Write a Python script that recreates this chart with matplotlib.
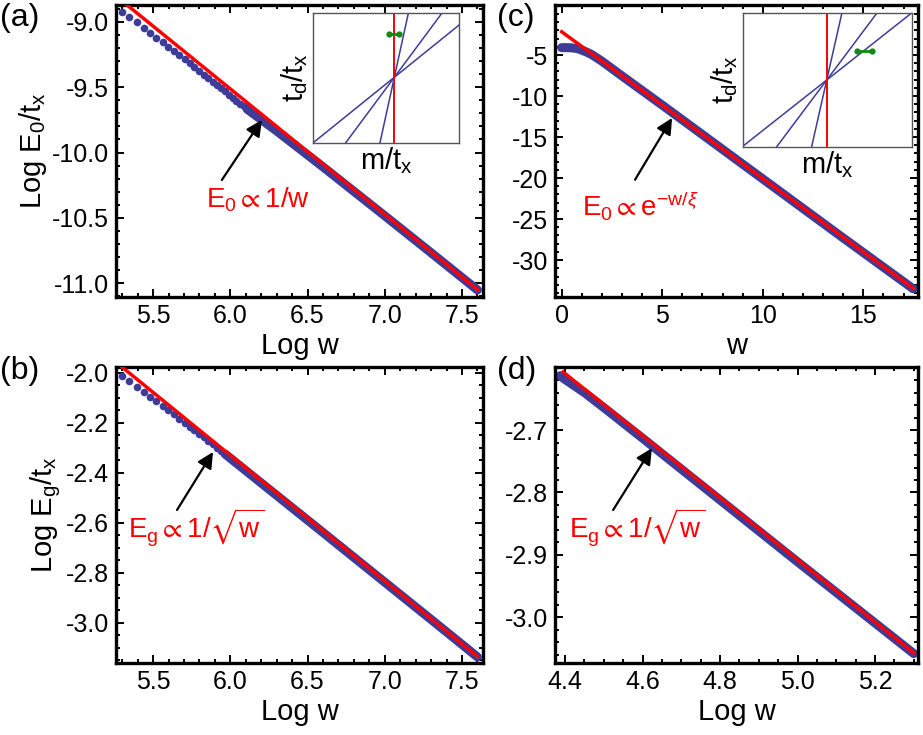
import matplotlib
matplotlib.use("Agg")
import matplotlib.pyplot as plt
from matplotlib.ticker import MultipleLocator, FixedLocator

plt.rcParams['font.family'] = ['Liberation Sans', 'DejaVu Sans']
plt.rcParams['mathtext.fontset'] = 'custom'
plt.rcParams['mathtext.rm'] = 'Liberation Sans'
plt.rcParams['mathtext.it'] = 'Liberation Sans:italic'
plt.rcParams['mathtext.fallback'] = 'stixsans'
plt.rcParams['axes.unicode_minus'] = False

BLUE = '#3d3d99'
RED = '#ff0000'
GREEN = '#108a10'

# --- panel (a): Log E0 vs Log w ---
a_dot_x = [5.298, 5.347, 5.394, 5.438, 5.481, 5.521, 5.561, 5.598, 5.635, 5.670,
           5.704, 5.737, 5.768, 5.799, 5.829, 5.858, 5.886, 5.914, 5.940, 5.966,
           5.991, 6.016, 6.040, 6.064, 6.087, 6.109]
a_dot_y = [-8.921, -8.959, -9.002, -9.044, -9.082, -9.121, -9.156, -9.190, -9.222, -9.253,
           -9.286, -9.316, -9.347, -9.375, -9.406, -9.431, -9.457, -9.483, -9.508, -9.532,
           -9.556, -9.579, -9.602, -9.625, -9.647, -9.668]
a_band_x = [6.109, 6.3, 6.6, 7.0, 7.3, 7.6]
a_band_y = [-9.668, -9.835, -10.11, -10.485, -10.768, -11.053]
a_fit_x = [5.30, 7.60]
a_fit_y = [-8.84, -11.05]

# --- panel (b): Log Eg vs Log w ---
b_dot_x = [5.298, 5.347, 5.394, 5.438, 5.481, 5.521, 5.561, 5.598, 5.635, 5.670,
           5.704, 5.737, 5.768, 5.799, 5.829, 5.858, 5.886, 5.914, 5.940, 5.966]
b_dot_y = [-2.012, -2.034, -2.055, -2.075, -2.095, -2.113, -2.132, -2.149, -2.166, -2.183,
           -2.199, -2.215, -2.229, -2.244, -2.258, -2.273, -2.286, -2.299, -2.312, -2.324]
b_band_x = [5.966, 6.2, 6.6, 7.0, 7.3, 7.6]
b_band_y = [-2.324, -2.440, -2.638, -2.837, -2.986, -3.136]
b_fit_x = [5.30, 7.60]
b_fit_y = [-1.977, -3.134]

# --- panel (c): Log E0 vs w ---
c_w = [0.0, 0.25, 0.5, 0.75, 1.0, 1.25, 1.5, 2.0, 2.5, 3.0, 5.0, 8.0, 11.0, 14.0, 17.48]
c_y = [-4.1, -4.1, -4.12, -4.2, -4.4, -4.65, -4.95, -5.75, -6.65, -7.55, -11.1, -16.5,
       -21.9, -27.3, -33.5]
c_fit_x = [0.0, 17.48]
c_fit_y = [-2.16, -33.45]
c_yticks = [-30, -25, -20, -15, -10, -5]

# --- panel (d): Log Eg vs Log w ---
d_x = [4.387, 4.40, 4.45, 4.5, 4.6, 4.8, 5.0, 5.2, 5.30]
d_y = [-2.613, -2.619, -2.640, -2.664, -2.713, -2.812, -2.911, -3.009, -3.058]
d_fit_x = [4.395, 5.30]
d_fit_y = [-2.607, -3.057]
d_yticks = [-3.0, -2.9, -2.8, -2.7]

# insets: slopes of the three lines through the crossing point, and the green pair
inset_a_center = (0.555, 0.505)
inset_a_slopes = [0.91, 1.52, 5.15]
inset_a_green_x = [0.52, 0.589]
inset_a_green_y = [0.838, 0.838]
inset_c_center = (0.497, 0.50)
inset_c_slopes = [1.0, 1.69, 5.6]
inset_c_green_x = [0.675, 0.763]
inset_c_green_y = [0.717, 0.717]

fig = plt.figure(figsize=(9.23, 7.35), dpi=100)
ax_a = fig.add_axes([0.1257, 0.5959, 0.3976, 0.3973])
ax_c = fig.add_axes([0.6013, 0.5959, 0.3933, 0.3973])
ax_b = fig.add_axes([0.1257, 0.0980, 0.3976, 0.4027])
ax_d = fig.add_axes([0.6013, 0.0980, 0.3933, 0.4027])

TICK_FS = 18
LABEL_FS = 21
NOTE_FS = 20
PANEL_FS = 23


def style(ax, xmaj, xmin, ymaj, ymin):
    for s in ax.spines.values():
        s.set_linewidth(2.4)
    ax.xaxis.set_major_locator(MultipleLocator(xmaj))
    ax.xaxis.set_minor_locator(MultipleLocator(xmin))
    ax.yaxis.set_major_locator(MultipleLocator(ymaj))
    ax.yaxis.set_minor_locator(MultipleLocator(ymin))
    ax.tick_params(which='both', direction='in', top=True, right=True,
                   labelsize=TICK_FS, width=1.4)
    ax.tick_params(which='major', length=6, pad=5)
    ax.tick_params(which='minor', length=3)


def draw(ax, dot_x, dot_y, band_x, band_y, fit_x, fit_y):
    if dot_x:
        ax.plot(dot_x, dot_y, 'o', color=BLUE, ms=5.5, mec='none', zorder=2)
    ax.plot(band_x, band_y, '-', color=BLUE, lw=6.5, solid_capstyle='round', zorder=2)
    ax.plot(fit_x, fit_y, '-', color=RED, lw=2.5, zorder=3)


arrow = dict(arrowstyle='-|>', color='black', lw=1.6, mutation_scale=24,
             shrinkA=0, shrinkB=0)

# (a)
draw(ax_a, a_dot_x, a_dot_y, a_band_x, a_band_y, a_fit_x, a_fit_y)
style(ax_a, 0.5, 0.1, 0.5, 0.1)
ax_a.set_xlim(5.26, 7.636)
ax_a.set_ylim(-11.107, -8.87)
ax_a.set_xlabel('Log w', fontsize=LABEL_FS, labelpad=3)
ax_a.set_ylabel(r'Log E$_0$/t$_\mathrm{x}$', fontsize=LABEL_FS, labelpad=2)
ax_a.annotate('', xy=(6.204, -9.751), xytext=(5.945, -10.211), arrowprops=arrow)
ax_a.text(6.18, -10.36, r'E$_0$$\propto$1/w', color=RED, fontsize=NOTE_FS,
          ha='center', va='center')

# (b)
draw(ax_b, b_dot_x, b_dot_y, b_band_x, b_band_y, b_fit_x, b_fit_y)
style(ax_b, 0.5, 0.1, 0.2, 0.05)
ax_b.set_xlim(5.26, 7.636)
ax_b.set_ylim(-3.16, -1.976)
ax_b.set_xlabel('Log w', fontsize=LABEL_FS, labelpad=3)
ax_b.set_ylabel(r'Log E$_\mathrm{g}$/t$_\mathrm{x}$', fontsize=LABEL_FS, labelpad=2)
ax_b.annotate('', xy=(5.888, -2.316), xytext=(5.655, -2.548), arrowprops=arrow)
ax_b.text(5.78, -2.616, r'E$_\mathrm{g}$$\propto$1/$\sqrt{\mathrm{w}}$', color=RED,
          fontsize=NOTE_FS, ha='center', va='center')

# (c)
draw(ax_c, [], [], c_w, c_y, c_fit_x, c_fit_y)
style(ax_c, 5, 1, 5, 1)
ax_c.yaxis.set_major_locator(FixedLocator(c_yticks))
ax_c.set_xlim(-0.33, 17.72)
ax_c.set_ylim(-34.5, 1.1)
ax_c.set_xlabel('w', fontsize=LABEL_FS, labelpad=3)
ax_c.annotate('', xy=(5.49, -12.68), xytext=(3.65, -20.2), arrowprops=arrow)
ax_c.text(3.9, -23.3, r'E$_0$$\propto$e$^{-\mathrm{w}/\xi}$', color=RED,
          fontsize=NOTE_FS, ha='center', va='center')

# (d)
draw(ax_d, [], [], d_x, d_y, d_fit_x, d_fit_y)
ax_d.plot(d_x[:1], d_y[:1], 'o', color=BLUE, ms=5.5, mec='none', zorder=2)
style(ax_d, 0.2, 0.05, 0.1, 0.02)
ax_d.yaxis.set_major_locator(FixedLocator(d_yticks))
ax_d.set_xlim(4.374, 5.311)
ax_d.set_ylim(-3.073, -2.599)
ax_d.set_xlabel('Log w', fontsize=LABEL_FS, labelpad=3)
ax_d.annotate('', xy=(4.624, -2.729), xytext=(4.524, -2.828), arrowprops=arrow)
ax_d.text(4.587, -2.855, r'E$_\mathrm{g}$$\propto$1/$\sqrt{\mathrm{w}}$', color=RED,
          fontsize=NOTE_FS, ha='center', va='center')


def inset(rect, center, slopes, gx, gy):
    ax = fig.add_axes(rect)
    xc, yc = center
    for s in slopes:
        xs = [0.0, 1.0]
        ys = [yc + s * (x - xc) for x in xs]
        ax.plot(xs, ys, color=BLUE, lw=1.1)
    ax.axvline(xc, color=RED, lw=1.4)
    ax.plot(gx, gy, '-o', color=GREEN, lw=2, ms=4.5, mec='none')
    ax.set_xlim(0, 1)
    ax.set_ylim(0, 1)
    ax.set_xticks([])
    ax.set_yticks([])
    for sp in ax.spines.values():
        sp.set_color('#555555')
        sp.set_linewidth(1.0)
    ax.set_xlabel(r'm/t$_\mathrm{x}$', fontsize=LABEL_FS, labelpad=2)
    ax.set_ylabel(r't$_\mathrm{d}$/t$_\mathrm{x}$', fontsize=LABEL_FS, labelpad=2)
    return ax


inset([0.3394, 0.8059, 0.1582, 0.1761], inset_a_center, inset_a_slopes,
      inset_a_green_x, inset_a_green_y)
inset([0.8047, 0.8004, 0.1831, 0.1815], inset_c_center, inset_c_slopes,
      inset_c_green_x, inset_c_green_y)

for lab, x, y in [('(a)', 0.0, 0.9755), ('(c)', 0.5385, 0.9755),
                  ('(b)', 0.0, 0.495), ('(d)', 0.5385, 0.495)]:
    fig.text(x, y, lab, fontsize=PANEL_FS, ha='left', va='center')

fig.savefig('out.png', dpi=100)
